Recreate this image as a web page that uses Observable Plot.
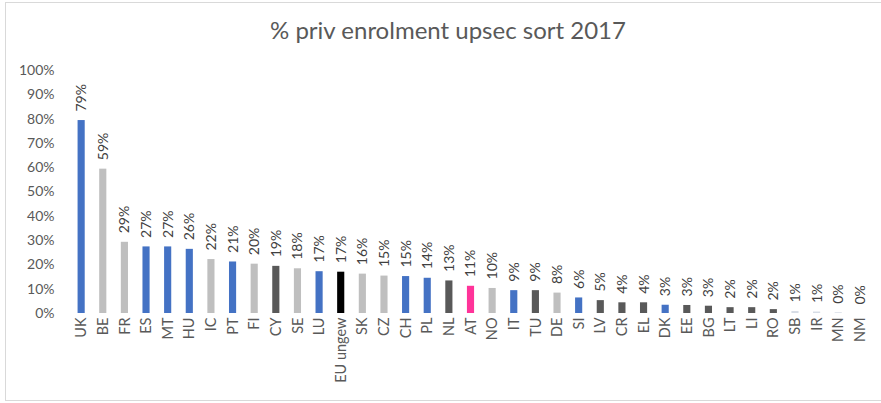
<!DOCTYPE html>
<html>
<head>
<meta charset="utf-8">
<script src="https://cdn.jsdelivr.net/npm/d3@7"></script>
<script src="https://cdn.jsdelivr.net/npm/@observablehq/plot@0.6"></script>
<style>
  html, body { margin: 0; padding: 0; background: #fff; }
  #wrap { position: relative; width: 881px; height: 403px; overflow: hidden; font-family: Lato, "Open Sans", sans-serif; }
  #frame { position: absolute; left: 5px; top: 2px; width: 890px; height: 399px; border: 1px solid #d9d9d9; box-sizing: border-box; }
  #title { position: absolute; left: 0; top: 0; width: 896px; height: 50px; line-height: 60px; text-align: center; font-size: 24px; color: #595959; }
  #chart { position: absolute; left: 0; top: 50px; }
</style>
</head>
<body>
<div id="wrap">
  <div id="frame"></div>
  <div id="title">% priv enrolment upsec sort 2017</div>
  <div id="chart"></div>
</div>
<script>
const countries = ["UK","BE","FR","ES","MT","HU","IC","PT","FI","CY","SE","LU","EU ungew","SK","CZ","CH","PL","NL","AT","NO","IT","TU","DE","SI","LV","CR","EL","DK","EE","BG","LT","LI","RO","SB","IR","MN","NM"];
const shares = [0.794,0.594,0.293,0.274,0.274,0.264,0.222,0.212,0.203,0.194,0.184,0.172,0.170,0.162,0.154,0.152,0.145,0.134,0.112,0.103,0.094,0.094,0.084,0.064,0.053,0.044,0.044,0.034,0.033,0.030,0.024,0.024,0.016,0.008,0.006,0.003,0.0];
const groups = ["blue","grey","grey","blue","blue","blue","grey","blue","grey","dark","grey","blue","eu","grey","grey","blue","blue","dark","at","grey","blue","dark","grey","blue","dark","dark","dark","blue","dark","dark","dark","dark","dark","light","light","light","light"];
const yTicks = [0,0.1,0.2,0.3,0.4,0.5,0.6,0.7,0.8,0.9,1];

const groupColors = {blue:"#4472c4", grey:"#bfbfbf", dark:"#595959", eu:"#000000", at:"#ff3399", light:"#d6dce5"};
const data = countries.map((c, i) => ({country: c, share: shares[i], group: groups[i]}));

const chart = Plot.plot({
  width: 881,
  height: 353,
  marginLeft: 70,
  marginRight: 10,
  marginTop: 20,
  marginBottom: 90,
  style: {fontFamily: "Lato, 'Open Sans', sans-serif", color: "#595959", background: "transparent"},
  x: {domain: countries, paddingInner: 0.67, paddingOuter: 0.35, round: false},
  y: {domain: [0, 1]},
  color: {domain: Object.keys(groupColors), range: Object.values(groupColors)},
  marks: [
    Plot.gridY(yTicks, {stroke: "#d9d9d9", strokeOpacity: 1, strokeWidth: 1.3, x1: 69, x2: 871}),
    Plot.axisY({ticks: yTicks, tickFormat: d3.format(".0%"), tickSize: 0, tickPadding: 16, label: null, fontSize: 14, fill: "#595959"}),
    Plot.axisX({tickRotate: -90, tickSize: 0, tickPadding: 4, label: null, fontSize: 14.5, fill: "#595959"}),
    Plot.barY(data, {x: "country", y: "share", fill: "group"}),
    Plot.text(data, {x: "country", y: "share", text: d => d3.format(".0%")(d.share), rotate: -90, textAnchor: "start", dy: -9, fontSize: 14, fill: "#404040"})
  ]
});
document.getElementById("chart").appendChild(chart);
</script>
</body>
</html>
